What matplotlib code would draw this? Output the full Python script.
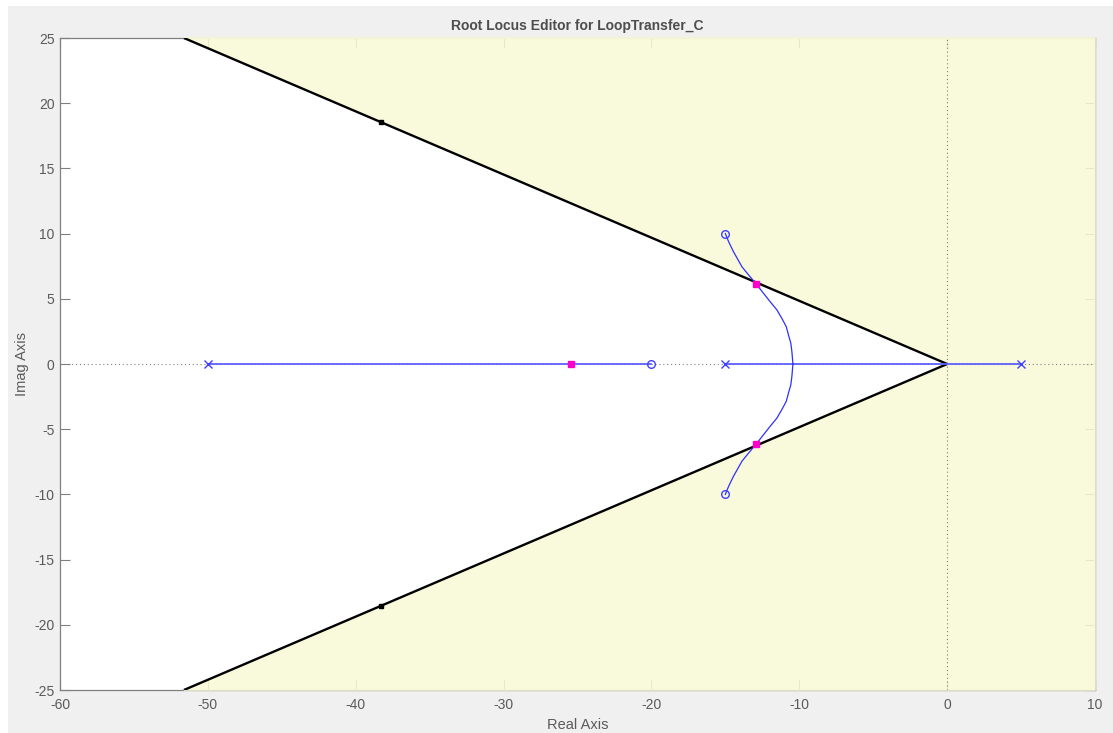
import numpy as np
import matplotlib
matplotlib.use("Agg")
import matplotlib.pyplot as plt
from matplotlib.patches import Polygon, Rectangle

plt.rcParams['font.family'] = ['Liberation Sans', 'DejaVu Sans']
plt.rcParams['axes.unicode_minus'] = False

# open-loop poles / zeros
pole_re = [-50, -15, 5]
pole_im = [0, 0, 0]
zero_re = [-20, -15, -15]
zero_im = [0, 10, -10]

# real-axis branches (start, end)
real_branches = [(-50, -20), (-15, 5)]

# complex branch, upper half, lower half is its mirror
arc_re = [-15.0, -14.78, -14.45, -13.88, -13.43, -12.91, -12.42, -11.97,
          -11.51, -11.18, -10.88, -10.73, -10.57, -10.5, -10.43]
arc_im = [10.0, 9.38, 8.61, 7.46, 6.83, 6.13, 5.42, 4.78,
          4.14, 3.5, 2.86, 2.22, 1.58, 0.94, 0.0]

# closed-loop poles (magenta squares)
clp_re = [-25.42, -12.91, -12.91]
clp_im = [0, 6.13, -6.13]

# damping-ratio design constraint
zeta = 0.9
handle_re = [-38.27, -38.27]
handle_im = [18.53, -18.53]

xticks = [-60, -50, -40, -30, -20, -10, 0, 10]
yticks = [-25, -20, -15, -10, -5, 0, 5, 10, 15, 20, 25]
xlim = (-60, 10)
ylim = (-25, 25)

gray = '#808080'
txt = '#5a5a5a'

fig = plt.figure(figsize=(11.13, 7.33), dpi=100, facecolor='white')
fig.patches.append(Rectangle((8 / 1113, 0), 1, 1 - 6 / 733, transform=fig.transFigure,
                             facecolor='#f0f0f0', edgecolor='none', zorder=-10))
ax = fig.add_axes([60 / 1113, 1 - 690 / 733, 1035 / 1113, 652 / 733])
ax.set_facecolor('white')

# shaded region outside the damping cone
t = np.tan(np.arccos(zeta))
xe = ylim[1] / t
yellow = Polygon([(0, 0), (-xe, ylim[1]), (xlim[1], ylim[1]), (xlim[1], ylim[0]), (-xe, ylim[0])],
                 closed=True, facecolor='#f9f9d6', edgecolor='#f9f9d6', lw=1.3, alpha=0.86,
                 zorder=2.6, clip_on=False)
ax.add_patch(yellow)

# cone boundary lines
ax.plot([0, -xe], [0, ylim[1]], color='black', lw=1.7, zorder=4, solid_capstyle='butt')
ax.plot([0, -xe], [0, ylim[0]], color='black', lw=1.7, zorder=4, solid_capstyle='butt')
ax.plot(handle_re, handle_im, 's', color='black', ms=3, zorder=5)

# reference dotted axes
ax.axhline(0, color=gray, ls=(0, (1, 2.5)), lw=0.8, zorder=3)
ax.axvline(0, color=gray, ls=(0, (1, 2.5)), lw=0.8, zorder=3)

# locus
for a, b in real_branches:
    ax.plot([a, b], [0, 0], color='#6060ff', lw=1.3, zorder=5)
ax.plot(arc_re, arc_im, color='#3030ff', lw=0.9, zorder=5)
ax.plot(arc_re, [-v for v in arc_im], color='#3030ff', lw=0.9, zorder=5)
ax.plot(pole_re, pole_im, 'x', color='#4040ff', ms=6, mew=1.0, zorder=6)
ax.plot(zero_re, zero_im, 'o', mfc='none', mec='#4040ff', ms=5.5, mew=1.0, zorder=6)
ax.plot(clp_re, clp_im, 's', color='#ff00cc', ms=4, zorder=7)

ax.set_xlim(*xlim)
ax.set_ylim(*ylim)
ax.set_xticks(xticks)
ax.set_yticks(yticks)
ax.tick_params(direction='in', length=7, width=0.8, color=gray, labelcolor=txt,
               labelsize=10, top=True, right=True)
ax.tick_params(axis='x', pad=6)
ax.tick_params(axis='y', pad=4)
for s in ax.spines.values():
    s.set_color(gray)
    s.set_linewidth(0.9)

ax.set_xlabel('Real Axis', color=txt, fontsize=10.5, labelpad=4)
ax.set_ylabel('Imag Axis', color=txt, fontsize=10.5, labelpad=4)
ax.set_title('Root Locus Editor for LoopTransfer_C', color='#4d4d4d', fontsize=10,
             fontweight='bold', pad=6)

fig.savefig('out.png', dpi=100, facecolor=fig.get_facecolor())
